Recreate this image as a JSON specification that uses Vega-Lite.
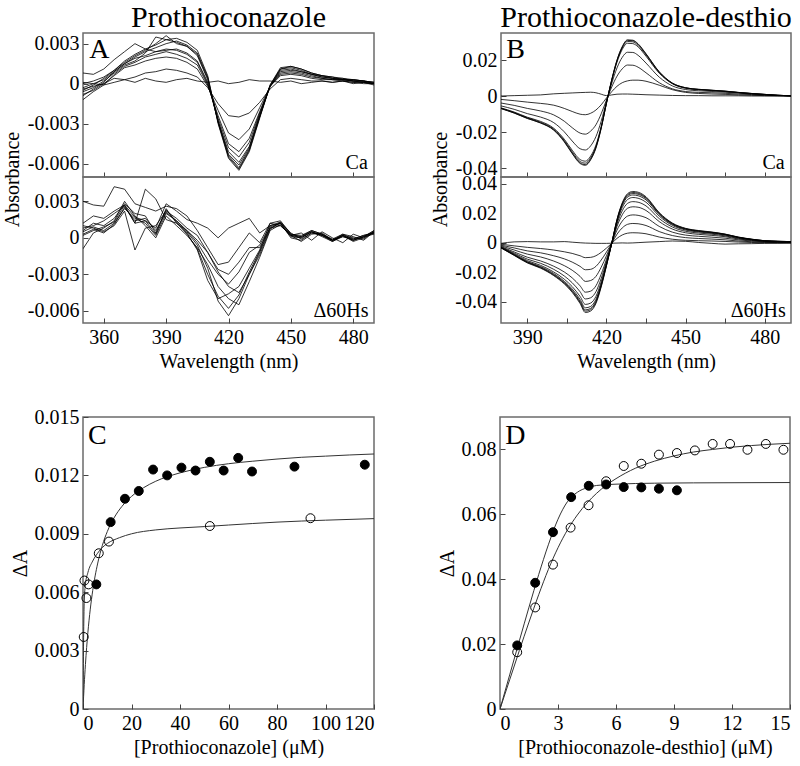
{
"$schema": "https://vega.github.io/schema/vega-lite/v6.json",
"padding": {"left": 1, "top": 2, "right": 0, "bottom": 0},
"config": {
 "font": "Liberation Serif",
 "view": {"stroke": "#6b6b6b", "strokeWidth": 1.5},
 "axis": {"grid": false, "domain": false, "tickSize": -5, "tickColor": "#444", "tickWidth": 1, "labelFontSize": 20, "labelColor": "#000", "labelPadding": 9, "labelFont": "Liberation Serif", "titleFont": "Liberation Serif", "titleFontSize": 20, "titleFontWeight": "normal", "titleColor": "#000"},
 "title": {"font": "Liberation Serif", "fontSize": 30, "fontWeight": "normal", "color": "#000"},
 "text": {"font": "Liberation Serif", "color": "#000"}
},
"datasets": {
"At": [
{"c":1,"w":350,"a":0.0001},{"c":1,"w":355,"a":0},{"c":1,"w":360,"a":-0.0001},{"c":1,"w":365,"a":0.0001},{"c":1,"w":370,"a":0.0003},{"c":1,"w":375,"a":0.0001},{"c":1,"w":380,"a":0.0004},{"c":1,"w":385,"a":0.0002},{"c":1,"w":390,"a":0.0001},{"c":1,"w":395,"a":0.0003},{"c":1,"w":400,"a":0.0004},{"c":1,"w":405,"a":0.0002},{"c":1,"w":410,"a":0.0001},{"c":1,"w":415,"a":0.0002},{"c":1,"w":420,"a":0},{"c":1,"w":425,"a":0.0001},{"c":1,"w":430,"a":0.0003},{"c":1,"w":435,"a":0.0002},{"c":1,"w":440,"a":0.0002},{"c":1,"w":445,"a":0.0001},{"c":1,"w":450,"a":0.0002},{"c":1,"w":455,"a":0},{"c":1,"w":460,"a":0.0001},{"c":1,"w":465,"a":0.0002},{"c":1,"w":470,"a":0.0001},{"c":1,"w":475,"a":0.0002},{"c":1,"w":480,"a":0},{"c":1,"w":485,"a":0.0001},{"c":1,"w":490,"a":0},
{"c":2,"w":350,"a":-0.0004},{"c":2,"w":355,"a":-0.0002},{"c":2,"w":360,"a":0},{"c":2,"w":365,"a":0.0004},{"c":2,"w":370,"a":0.0003},{"c":2,"w":375,"a":0.0005},{"c":2,"w":380,"a":0.0008},{"c":2,"w":385,"a":0.0009},{"c":2,"w":390,"a":0.0011},{"c":2,"w":395,"a":0.001},{"c":2,"w":400,"a":0.0008},{"c":2,"w":405,"a":0.0005},{"c":2,"w":410,"a":-0.0003},{"c":2,"w":415,"a":-0.0015},{"c":2,"w":420,"a":-0.0024},{"c":2,"w":425,"a":-0.0025},{"c":2,"w":430,"a":-0.0022},{"c":2,"w":435,"a":-0.0014},{"c":2,"w":440,"a":-0.0004},{"c":2,"w":445,"a":0.0003},{"c":2,"w":450,"a":0.0004},{"c":2,"w":455,"a":0.0003},{"c":2,"w":460,"a":0.0002},{"c":2,"w":465,"a":0.0002},{"c":2,"w":470,"a":0.0001},{"c":2,"w":475,"a":0.0002},{"c":2,"w":480,"a":0.0001},{"c":2,"w":485,"a":0},{"c":2,"w":490,"a":0},
{"c":3,"w":350,"a":-0.0008},{"c":3,"w":355,"a":-0.0005},{"c":3,"w":360,"a":0},{"c":3,"w":365,"a":0.0006},{"c":3,"w":370,"a":0.0012},{"c":3,"w":375,"a":0.0014},{"c":3,"w":380,"a":0.0017},{"c":3,"w":385,"a":0.0019},{"c":3,"w":390,"a":0.002},{"c":3,"w":395,"a":0.0019},{"c":3,"w":400,"a":0.0016},{"c":3,"w":405,"a":0.0011},{"c":3,"w":410,"a":-0.0002},{"c":3,"w":415,"a":-0.002},{"c":3,"w":420,"a":-0.0037},{"c":3,"w":425,"a":-0.0042},{"c":3,"w":430,"a":-0.0034},{"c":3,"w":435,"a":-0.0018},{"c":3,"w":440,"a":-0.0002},{"c":3,"w":445,"a":0.0006},{"c":3,"w":450,"a":0.0007},{"c":3,"w":455,"a":0.0006},{"c":3,"w":460,"a":0.0004},{"c":3,"w":465,"a":0.0003},{"c":3,"w":470,"a":0.0003},{"c":3,"w":475,"a":0.0002},{"c":3,"w":480,"a":0.0001},{"c":3,"w":485,"a":0.0001},{"c":3,"w":490,"a":0},
{"c":4,"w":350,"a":-0.0012},{"c":4,"w":355,"a":-0.0006},{"c":4,"w":360,"a":-0.0001},{"c":4,"w":365,"a":0.0007},{"c":4,"w":370,"a":0.0013},{"c":4,"w":375,"a":0.0016},{"c":4,"w":380,"a":0.002},{"c":4,"w":385,"a":0.0022},{"c":4,"w":390,"a":0.0024},{"c":4,"w":395,"a":0.0022},{"c":4,"w":400,"a":0.0019},{"c":4,"w":405,"a":0.0014},{"c":4,"w":410,"a":-0.0001},{"c":4,"w":415,"a":-0.0024},{"c":4,"w":420,"a":-0.0045},{"c":4,"w":425,"a":-0.0051},{"c":4,"w":430,"a":-0.0041},{"c":4,"w":435,"a":-0.0021},{"c":4,"w":440,"a":-0.0002},{"c":4,"w":445,"a":0.0007},{"c":4,"w":450,"a":0.0008},{"c":4,"w":455,"a":0.0007},{"c":4,"w":460,"a":0.0005},{"c":4,"w":465,"a":0.0004},{"c":4,"w":470,"a":0.0003},{"c":4,"w":475,"a":0.0003},{"c":4,"w":480,"a":0.0002},{"c":4,"w":485,"a":0.0001},{"c":4,"w":490,"a":-0.0001},
{"c":5,"w":350,"a":-0.0003},{"c":5,"w":355,"a":0},{"c":5,"w":360,"a":0.0003},{"c":5,"w":365,"a":0.0009},{"c":5,"w":370,"a":0.0015},{"c":5,"w":375,"a":0.0019},{"c":5,"w":380,"a":0.0021},{"c":5,"w":385,"a":0.0024},{"c":5,"w":390,"a":0.0026},{"c":5,"w":395,"a":0.0025},{"c":5,"w":400,"a":0.0022},{"c":5,"w":405,"a":0.0016},{"c":5,"w":410,"a":0},{"c":5,"w":415,"a":-0.0026},{"c":5,"w":420,"a":-0.0048},{"c":5,"w":425,"a":-0.0055},{"c":5,"w":430,"a":-0.0044},{"c":5,"w":435,"a":-0.0022},{"c":5,"w":440,"a":-0.0002},{"c":5,"w":445,"a":0.0008},{"c":5,"w":450,"a":0.0009},{"c":5,"w":455,"a":0.0008},{"c":5,"w":460,"a":0.0006},{"c":5,"w":465,"a":0.0004},{"c":5,"w":470,"a":0.0003},{"c":5,"w":475,"a":0.0003},{"c":5,"w":480,"a":0.0002},{"c":5,"w":485,"a":0.0001},{"c":5,"w":490,"a":0},
{"c":6,"w":350,"a":0.0008},{"c":6,"w":355,"a":0.0007},{"c":6,"w":360,"a":0.0011},{"c":6,"w":365,"a":0.0018},{"c":6,"w":370,"a":0.0024},{"c":6,"w":375,"a":0.003},{"c":6,"w":380,"a":0.0026},{"c":6,"w":385,"a":0.0024},{"c":6,"w":390,"a":0.0025},{"c":6,"w":395,"a":0.0026},{"c":6,"w":400,"a":0.0023},{"c":6,"w":405,"a":0.0017},{"c":6,"w":410,"a":0.0001},{"c":6,"w":415,"a":-0.0028},{"c":6,"w":420,"a":-0.0051},{"c":6,"w":425,"a":-0.0059},{"c":6,"w":430,"a":-0.0047},{"c":6,"w":435,"a":-0.0023},{"c":6,"w":440,"a":-0.0002},{"c":6,"w":445,"a":0.0009},{"c":6,"w":450,"a":0.001},{"c":6,"w":455,"a":0.0009},{"c":6,"w":460,"a":0.0007},{"c":6,"w":465,"a":0.0005},{"c":6,"w":470,"a":0.0004},{"c":6,"w":475,"a":0.0003},{"c":6,"w":480,"a":0.0002},{"c":6,"w":485,"a":0.0002},{"c":6,"w":490,"a":0},
{"c":7,"w":350,"a":-0.0006},{"c":7,"w":355,"a":-0.0003},{"c":7,"w":360,"a":0.0002},{"c":7,"w":365,"a":0.0008},{"c":7,"w":370,"a":0.0014},{"c":7,"w":375,"a":0.0017},{"c":7,"w":380,"a":0.0023},{"c":7,"w":385,"a":0.0035},{"c":7,"w":390,"a":0.0033},{"c":7,"w":395,"a":0.0031},{"c":7,"w":400,"a":0.0028},{"c":7,"w":405,"a":0.0021},{"c":7,"w":410,"a":0.0003},{"c":7,"w":415,"a":-0.0028},{"c":7,"w":420,"a":-0.0053},{"c":7,"w":425,"a":-0.0061},{"c":7,"w":430,"a":-0.0048},{"c":7,"w":435,"a":-0.0024},{"c":7,"w":440,"a":-0.0002},{"c":7,"w":445,"a":0.001},{"c":7,"w":450,"a":0.0011},{"c":7,"w":455,"a":0.0009},{"c":7,"w":460,"a":0.0007},{"c":7,"w":465,"a":0.0005},{"c":7,"w":470,"a":0.0004},{"c":7,"w":475,"a":0.0003},{"c":7,"w":480,"a":0.0003},{"c":7,"w":485,"a":0.0002},{"c":7,"w":490,"a":0.0001},
{"c":8,"w":350,"a":0},{"c":8,"w":355,"a":0.0002},{"c":8,"w":360,"a":0.0005},{"c":8,"w":365,"a":0.001},{"c":8,"w":370,"a":0.0016},{"c":8,"w":375,"a":0.0021},{"c":8,"w":380,"a":0.0025},{"c":8,"w":385,"a":0.003},{"c":8,"w":390,"a":0.0036},{"c":8,"w":395,"a":0.003},{"c":8,"w":400,"a":0.0028},{"c":8,"w":405,"a":0.0022},{"c":8,"w":410,"a":0.0004},{"c":8,"w":415,"a":-0.0029},{"c":8,"w":420,"a":-0.0054},{"c":8,"w":425,"a":-0.0063},{"c":8,"w":430,"a":-0.0049},{"c":8,"w":435,"a":-0.0025},{"c":8,"w":440,"a":-0.0002},{"c":8,"w":445,"a":0.0011},{"c":8,"w":450,"a":0.0012},{"c":8,"w":455,"a":0.001},{"c":8,"w":460,"a":0.0007},{"c":8,"w":465,"a":0.0006},{"c":8,"w":470,"a":0.0004},{"c":8,"w":475,"a":0.0004},{"c":8,"w":480,"a":0.0002},{"c":8,"w":485,"a":0.0002},{"c":8,"w":490,"a":0},
{"c":9,"w":350,"a":-0.0009},{"c":9,"w":355,"a":-0.0004},{"c":9,"w":360,"a":0.0001},{"c":9,"w":365,"a":0.0009},{"c":9,"w":370,"a":0.0015},{"c":9,"w":375,"a":0.002},{"c":9,"w":380,"a":0.0024},{"c":9,"w":385,"a":0.0027},{"c":9,"w":390,"a":0.003},{"c":9,"w":395,"a":0.0032},{"c":9,"w":400,"a":0.0029},{"c":9,"w":405,"a":0.0023},{"c":9,"w":410,"a":0.0005},{"c":9,"w":415,"a":-0.0029},{"c":9,"w":420,"a":-0.0055},{"c":9,"w":425,"a":-0.0064},{"c":9,"w":430,"a":-0.005},{"c":9,"w":435,"a":-0.0025},{"c":9,"w":440,"a":-0.0001},{"c":9,"w":445,"a":0.0011},{"c":9,"w":450,"a":0.0013},{"c":9,"w":455,"a":0.0011},{"c":9,"w":460,"a":0.0008},{"c":9,"w":465,"a":0.0006},{"c":9,"w":470,"a":0.0005},{"c":9,"w":475,"a":0.0003},{"c":9,"w":480,"a":0.0003},{"c":9,"w":485,"a":0.0002},{"c":9,"w":490,"a":0.0001},
{"c":10,"w":350,"a":-0.0005},{"c":10,"w":355,"a":-0.0001},{"c":10,"w":360,"a":0.0004},{"c":10,"w":365,"a":0.001},{"c":10,"w":370,"a":0.0017},{"c":10,"w":375,"a":0.0022},{"c":10,"w":380,"a":0.0026},{"c":10,"w":385,"a":0.0029},{"c":10,"w":390,"a":0.0033},{"c":10,"w":395,"a":0.0034},{"c":10,"w":400,"a":0.0031},{"c":10,"w":405,"a":0.0025},{"c":10,"w":410,"a":0.0006},{"c":10,"w":415,"a":-0.003},{"c":10,"w":420,"a":-0.0056},{"c":10,"w":425,"a":-0.0065},{"c":10,"w":430,"a":-0.0051},{"c":10,"w":435,"a":-0.0026},{"c":10,"w":440,"a":-0.0001},{"c":10,"w":445,"a":0.0012},{"c":10,"w":450,"a":0.0013},{"c":10,"w":455,"a":0.0011},{"c":10,"w":460,"a":0.0008},{"c":10,"w":465,"a":0.0006},{"c":10,"w":470,"a":0.0005},{"c":10,"w":475,"a":0.0004},{"c":10,"w":480,"a":0.0003},{"c":10,"w":485,"a":0.0002},{"c":10,"w":490,"a":0.0001}
],
"Ab": [
{"c":1,"w":350,"a":0.0012},{"c":1,"w":355,"a":0.0018},{"c":1,"w":360,"a":0.0016},{"c":1,"w":365,"a":0.0022},{"c":1,"w":370,"a":0.0027},{"c":1,"w":375,"a":0.0017},{"c":1,"w":380,"a":0.0014},{"c":1,"w":385,"a":0.0008},{"c":1,"w":390,"a":0.0028},{"c":1,"w":395,"a":0.0022},{"c":1,"w":400,"a":0.0015},{"c":1,"w":405,"a":0.0012},{"c":1,"w":410,"a":0.0008},{"c":1,"w":415,"a":0},{"c":1,"w":420,"a":0.0008},{"c":1,"w":425,"a":0.0012},{"c":1,"w":430,"a":0.0016},{"c":1,"w":435,"a":0.0004},{"c":1,"w":440,"a":0.001},{"c":1,"w":445,"a":0.0013},{"c":1,"w":450,"a":0.0003},{"c":1,"w":455,"a":0.0002},{"c":1,"w":460,"a":0.0006},{"c":1,"w":465,"a":0.0003},{"c":1,"w":470,"a":-0.0001},{"c":1,"w":475,"a":0.0003},{"c":1,"w":480,"a":0.0001},{"c":1,"w":485,"a":-0.0002},{"c":1,"w":490,"a":0.0005},
{"c":2,"w":350,"a":0.003},{"c":2,"w":355,"a":0.0027},{"c":2,"w":360,"a":0.0026},{"c":2,"w":365,"a":0.0042},{"c":2,"w":370,"a":0.004},{"c":2,"w":375,"a":0.0028},{"c":2,"w":380,"a":0.0025},{"c":2,"w":385,"a":0.0022},{"c":2,"w":390,"a":0.0026},{"c":2,"w":395,"a":0.0024},{"c":2,"w":400,"a":0.0018},{"c":2,"w":405,"a":0.0006},{"c":2,"w":410,"a":-0.0008},{"c":2,"w":415,"a":-0.0022},{"c":2,"w":420,"a":-0.002},{"c":2,"w":425,"a":-0.0008},{"c":2,"w":430,"a":0.0004},{"c":2,"w":435,"a":-0.0004},{"c":2,"w":440,"a":0.0012},{"c":2,"w":445,"a":0.001},{"c":2,"w":450,"a":0.0002},{"c":2,"w":455,"a":0.0004},{"c":2,"w":460,"a":-0.0002},{"c":2,"w":465,"a":0.0005},{"c":2,"w":470,"a":0},{"c":2,"w":475,"a":-0.0004},{"c":2,"w":480,"a":0.0003},{"c":2,"w":485,"a":0},{"c":2,"w":490,"a":0.0004},
{"c":3,"w":350,"a":0.0008},{"c":3,"w":355,"a":0.001},{"c":3,"w":360,"a":0.0014},{"c":3,"w":365,"a":0.002},{"c":3,"w":370,"a":0.0026},{"c":3,"w":375,"a":0.0012},{"c":3,"w":380,"a":0.004},{"c":3,"w":385,"a":0.0032},{"c":3,"w":390,"a":0.0015},{"c":3,"w":395,"a":0.0012},{"c":3,"w":400,"a":0.0006},{"c":3,"w":405,"a":-0.0004},{"c":3,"w":410,"a":-0.0018},{"c":3,"w":415,"a":-0.003},{"c":3,"w":420,"a":-0.0038},{"c":3,"w":425,"a":-0.0028},{"c":3,"w":430,"a":-0.0012},{"c":3,"w":435,"a":-0.0006},{"c":3,"w":440,"a":0.001},{"c":3,"w":445,"a":0.0012},{"c":3,"w":450,"a":0},{"c":3,"w":455,"a":-0.0002},{"c":3,"w":460,"a":0.0004},{"c":3,"w":465,"a":0.0002},{"c":3,"w":470,"a":-0.0003},{"c":3,"w":475,"a":0.0001},{"c":3,"w":480,"a":-0.0002},{"c":3,"w":485,"a":0.0001},{"c":3,"w":490,"a":0.0003},
{"c":4,"w":350,"a":0.0005},{"c":4,"w":355,"a":0.0009},{"c":4,"w":360,"a":0.0006},{"c":4,"w":365,"a":0.0012},{"c":4,"w":370,"a":0.0024},{"c":4,"w":375,"a":0.0016},{"c":4,"w":380,"a":0.0012},{"c":4,"w":385,"a":0.0002},{"c":4,"w":390,"a":0.002},{"c":4,"w":395,"a":0.0014},{"c":4,"w":400,"a":0.0005},{"c":4,"w":405,"a":-0.0006},{"c":4,"w":410,"a":-0.0025},{"c":4,"w":415,"a":-0.0052},{"c":4,"w":420,"a":-0.0064},{"c":4,"w":425,"a":-0.005},{"c":4,"w":430,"a":-0.003},{"c":4,"w":435,"a":-0.0012},{"c":4,"w":440,"a":0.0008},{"c":4,"w":445,"a":0.001},{"c":4,"w":450,"a":0.0002},{"c":4,"w":455,"a":-0.0003},{"c":4,"w":460,"a":0.0003},{"c":4,"w":465,"a":0.0004},{"c":4,"w":470,"a":-0.0002},{"c":4,"w":475,"a":0.0002},{"c":4,"w":480,"a":-0.0003},{"c":4,"w":485,"a":0},{"c":4,"w":490,"a":0.0006},
{"c":5,"w":350,"a":-0.0009},{"c":5,"w":355,"a":0.0004},{"c":5,"w":360,"a":0.0008},{"c":5,"w":365,"a":0.0014},{"c":5,"w":370,"a":0.003},{"c":5,"w":375,"a":0.0018},{"c":5,"w":380,"a":0.001},{"c":5,"w":385,"a":0},{"c":5,"w":390,"a":0.0018},{"c":5,"w":395,"a":0.001},{"c":5,"w":400,"a":0.0002},{"c":5,"w":405,"a":-0.0008},{"c":5,"w":410,"a":-0.0022},{"c":5,"w":415,"a":-0.004},{"c":5,"w":420,"a":-0.005},{"c":5,"w":425,"a":-0.0055},{"c":5,"w":430,"a":-0.0036},{"c":5,"w":435,"a":-0.0016},{"c":5,"w":440,"a":0.0006},{"c":5,"w":445,"a":0.0011},{"c":5,"w":450,"a":0.0001},{"c":5,"w":455,"a":0},{"c":5,"w":460,"a":0.0005},{"c":5,"w":465,"a":0.0002},{"c":5,"w":470,"a":-0.0002},{"c":5,"w":475,"a":0.0003},{"c":5,"w":480,"a":-0.0001},{"c":5,"w":485,"a":0.0002},{"c":5,"w":490,"a":0.0004},
{"c":6,"w":350,"a":0.0006},{"c":6,"w":355,"a":0.0012},{"c":6,"w":360,"a":0.001},{"c":6,"w":365,"a":0.0016},{"c":6,"w":370,"a":0.0028},{"c":6,"w":375,"a":0.002},{"c":6,"w":380,"a":0.0018},{"c":6,"w":385,"a":0.0004},{"c":6,"w":390,"a":0.0024},{"c":6,"w":395,"a":0.0012},{"c":6,"w":400,"a":0.0004},{"c":6,"w":405,"a":-0.001},{"c":6,"w":410,"a":-0.0035},{"c":6,"w":415,"a":-0.005},{"c":6,"w":420,"a":-0.0046},{"c":6,"w":425,"a":-0.004},{"c":6,"w":430,"a":-0.0025},{"c":6,"w":435,"a":-0.001},{"c":6,"w":440,"a":0.0012},{"c":6,"w":445,"a":0.0014},{"c":6,"w":450,"a":0.0003},{"c":6,"w":455,"a":0.0001},{"c":6,"w":460,"a":0.0006},{"c":6,"w":465,"a":0.0003},{"c":6,"w":470,"a":-0.0002},{"c":6,"w":475,"a":0.0002},{"c":6,"w":480,"a":0},{"c":6,"w":485,"a":-0.0001},{"c":6,"w":490,"a":0.0005},
{"c":7,"w":350,"a":0.001},{"c":7,"w":355,"a":0.0008},{"c":7,"w":360,"a":0.0005},{"c":7,"w":365,"a":0.001},{"c":7,"w":370,"a":0.0022},{"c":7,"w":375,"a":-0.001},{"c":7,"w":380,"a":0.0008},{"c":7,"w":385,"a":0.001},{"c":7,"w":390,"a":0.0022},{"c":7,"w":395,"a":0.0016},{"c":7,"w":400,"a":0.0008},{"c":7,"w":405,"a":0.0002},{"c":7,"w":410,"a":-0.0012},{"c":7,"w":415,"a":-0.0026},{"c":7,"w":420,"a":-0.003},{"c":7,"w":425,"a":-0.002},{"c":7,"w":430,"a":-0.0008},{"c":7,"w":435,"a":-0.0008},{"c":7,"w":440,"a":0.0008},{"c":7,"w":445,"a":0.0012},{"c":7,"w":450,"a":0.0002},{"c":7,"w":455,"a":0.0001},{"c":7,"w":460,"a":0.0005},{"c":7,"w":465,"a":0.0001},{"c":7,"w":470,"a":-0.0003},{"c":7,"w":475,"a":0.0002},{"c":7,"w":480,"a":-0.0002},{"c":7,"w":485,"a":0.0001},{"c":7,"w":490,"a":0.0006},
{"c":8,"w":350,"a":0.0003},{"c":8,"w":355,"a":0.0007},{"c":8,"w":360,"a":0.0004},{"c":8,"w":365,"a":0.0011},{"c":8,"w":370,"a":0.0025},{"c":8,"w":375,"a":0.0014},{"c":8,"w":380,"a":0.0016},{"c":8,"w":385,"a":0.0006},{"c":8,"w":390,"a":0.0021},{"c":8,"w":395,"a":0.0014},{"c":8,"w":400,"a":0.0006},{"c":8,"w":405,"a":-0.0002},{"c":8,"w":410,"a":-0.0012},{"c":8,"w":415,"a":-0.0028},{"c":8,"w":420,"a":-0.004},{"c":8,"w":425,"a":-0.0045},{"c":8,"w":430,"a":-0.003},{"c":8,"w":435,"a":-0.0014},{"c":8,"w":440,"a":0.0007},{"c":8,"w":445,"a":0.0013},{"c":8,"w":450,"a":0.0004},{"c":8,"w":455,"a":-0.0001},{"c":8,"w":460,"a":0.0004},{"c":8,"w":465,"a":0.0003},{"c":8,"w":470,"a":-0.0002},{"c":8,"w":475,"a":0.0001},{"c":8,"w":480,"a":-0.0001},{"c":8,"w":485,"a":0.0002},{"c":8,"w":490,"a":0.0004},
{"c":9,"w":350,"a":0.0002},{"c":9,"w":355,"a":0.0006},{"c":9,"w":360,"a":0.0009},{"c":9,"w":365,"a":0.0013},{"c":9,"w":370,"a":0.0027},{"c":9,"w":375,"a":0.0012},{"c":9,"w":380,"a":0.0014},{"c":9,"w":385,"a":0.0003},{"c":9,"w":390,"a":0.0023},{"c":9,"w":395,"a":0.0013},{"c":9,"w":400,"a":0.0003},{"c":9,"w":405,"a":-0.0009},{"c":9,"w":410,"a":-0.003},{"c":9,"w":415,"a":-0.0048},{"c":9,"w":420,"a":-0.0058},{"c":9,"w":425,"a":-0.0047},{"c":9,"w":430,"a":-0.0028},{"c":9,"w":435,"a":-0.0011},{"c":9,"w":440,"a":0.0009},{"c":9,"w":445,"a":0.0012},{"c":9,"w":450,"a":0.0002},{"c":9,"w":455,"a":0},{"c":9,"w":460,"a":0.0005},{"c":9,"w":465,"a":0.0002},{"c":9,"w":470,"a":-0.0002},{"c":9,"w":475,"a":0.0002},{"c":9,"w":480,"a":-0.0002},{"c":9,"w":485,"a":0.0001},{"c":9,"w":490,"a":0.0005}
],
"Bt": [
{"c":1,"w":380,"a":0},{"c":1,"w":385,"a":0.0002},{"c":1,"w":390,"a":0.0004},{"c":1,"w":395,"a":0.0006},{"c":1,"w":400,"a":0.0012},{"c":1,"w":404,"a":0.0015},{"c":1,"w":407,"a":0.0017},{"c":1,"w":410,"a":0.0019},{"c":1,"w":412,"a":0.002},{"c":1,"w":414,"a":0.0021},{"c":1,"w":416,"a":0.0018},{"c":1,"w":418,"a":0.001},{"c":1,"w":420,"a":0.0002},{"c":1,"w":422,"a":0.0006},{"c":1,"w":424,"a":0.001},{"c":1,"w":426,"a":0.0011},{"c":1,"w":428,"a":0.0011},{"c":1,"w":430,"a":0.001},{"c":1,"w":432,"a":0.0009},{"c":1,"w":435,"a":0.0007},{"c":1,"w":440,"a":0.0005},{"c":1,"w":445,"a":0.0003},{"c":1,"w":450,"a":0.0002},{"c":1,"w":455,"a":0.0002},{"c":1,"w":460,"a":0.0001},{"c":1,"w":465,"a":0.0001},{"c":1,"w":470,"a":0.0001},{"c":1,"w":475,"a":0},{"c":1,"w":480,"a":0},{"c":1,"w":485,"a":0},{"c":1,"w":490,"a":0},
{"c":2,"w":380,"a":-0.0019},{"c":2,"w":385,"a":-0.0026},{"c":2,"w":390,"a":-0.0034},{"c":2,"w":395,"a":-0.0041},{"c":2,"w":400,"a":-0.0051},{"c":2,"w":404,"a":-0.0069},{"c":2,"w":407,"a":-0.0086},{"c":2,"w":410,"a":-0.0101},{"c":2,"w":412,"a":-0.0104},{"c":2,"w":414,"a":-0.0096},{"c":2,"w":416,"a":-0.0078},{"c":2,"w":418,"a":-0.0049},{"c":2,"w":420,"a":-0.0011},{"c":2,"w":422,"a":0.0024},{"c":2,"w":424,"a":0.0054},{"c":2,"w":426,"a":0.0074},{"c":2,"w":428,"a":0.0084},{"c":2,"w":430,"a":0.0088},{"c":2,"w":432,"a":0.0088},{"c":2,"w":435,"a":0.0082},{"c":2,"w":440,"a":0.006},{"c":2,"w":445,"a":0.0035},{"c":2,"w":450,"a":0.002},{"c":2,"w":455,"a":0.0014},{"c":2,"w":460,"a":0.0011},{"c":2,"w":465,"a":0.0009},{"c":2,"w":470,"a":0.0006},{"c":2,"w":475,"a":0.0004},{"c":2,"w":480,"a":0.0002},{"c":2,"w":485,"a":0.0001},{"c":2,"w":490,"a":0},
{"c":3,"w":380,"a":-0.0039},{"c":3,"w":385,"a":-0.0052},{"c":3,"w":390,"a":-0.0069},{"c":3,"w":395,"a":-0.0083},{"c":3,"w":400,"a":-0.0105},{"c":3,"w":404,"a":-0.014},{"c":3,"w":407,"a":-0.0176},{"c":3,"w":410,"a":-0.0206},{"c":3,"w":412,"a":-0.0212},{"c":3,"w":414,"a":-0.0195},{"c":3,"w":416,"a":-0.016},{"c":3,"w":418,"a":-0.0099},{"c":3,"w":420,"a":-0.0022},{"c":3,"w":422,"a":0.005},{"c":3,"w":424,"a":0.011},{"c":3,"w":426,"a":0.0151},{"c":3,"w":428,"a":0.0172},{"c":3,"w":430,"a":0.0171},{"c":3,"w":432,"a":0.016},{"c":3,"w":435,"a":0.0129},{"c":3,"w":440,"a":0.0074},{"c":3,"w":445,"a":0.004},{"c":3,"w":450,"a":0.0025},{"c":3,"w":455,"a":0.002},{"c":3,"w":460,"a":0.0018},{"c":3,"w":465,"a":0.0015},{"c":3,"w":470,"a":0.0011},{"c":3,"w":475,"a":0.0008},{"c":3,"w":480,"a":0.0005},{"c":3,"w":485,"a":0.0002},{"c":3,"w":490,"a":0.0001},
{"c":4,"w":380,"a":-0.0055},{"c":4,"w":385,"a":-0.0074},{"c":4,"w":390,"a":-0.0098},{"c":4,"w":395,"a":-0.0117},{"c":4,"w":400,"a":-0.0148},{"c":4,"w":404,"a":-0.0199},{"c":4,"w":407,"a":-0.025},{"c":4,"w":410,"a":-0.0293},{"c":4,"w":412,"a":-0.03},{"c":4,"w":414,"a":-0.0277},{"c":4,"w":416,"a":-0.0226},{"c":4,"w":418,"a":-0.014},{"c":4,"w":420,"a":-0.0031},{"c":4,"w":422,"a":0.007},{"c":4,"w":424,"a":0.0156},{"c":4,"w":426,"a":0.0215},{"c":4,"w":428,"a":0.0243},{"c":4,"w":430,"a":0.0242},{"c":4,"w":432,"a":0.0226},{"c":4,"w":435,"a":0.0183},{"c":4,"w":440,"a":0.0105},{"c":4,"w":445,"a":0.0056},{"c":4,"w":450,"a":0.0036},{"c":4,"w":455,"a":0.0029},{"c":4,"w":460,"a":0.0025},{"c":4,"w":465,"a":0.0021},{"c":4,"w":470,"a":0.0016},{"c":4,"w":475,"a":0.0011},{"c":4,"w":480,"a":0.0007},{"c":4,"w":485,"a":0.0003},{"c":4,"w":490,"a":0.0001},
{"c":5,"w":380,"a":-0.0066},{"c":5,"w":385,"a":-0.0089},{"c":5,"w":390,"a":-0.0118},{"c":5,"w":395,"a":-0.0141},{"c":5,"w":400,"a":-0.0179},{"c":5,"w":404,"a":-0.024},{"c":5,"w":407,"a":-0.0301},{"c":5,"w":410,"a":-0.0353},{"c":5,"w":412,"a":-0.0362},{"c":5,"w":414,"a":-0.0334},{"c":5,"w":416,"a":-0.0273},{"c":5,"w":418,"a":-0.0169},{"c":5,"w":420,"a":-0.0038},{"c":5,"w":422,"a":0.0085},{"c":5,"w":424,"a":0.0188},{"c":5,"w":426,"a":0.0259},{"c":5,"w":428,"a":0.0293},{"c":5,"w":430,"a":0.0291},{"c":5,"w":432,"a":0.0273},{"c":5,"w":435,"a":0.0221},{"c":5,"w":440,"a":0.0127},{"c":5,"w":445,"a":0.0068},{"c":5,"w":450,"a":0.0043},{"c":5,"w":455,"a":0.0035},{"c":5,"w":460,"a":0.003},{"c":5,"w":465,"a":0.0025},{"c":5,"w":470,"a":0.0019},{"c":5,"w":475,"a":0.0013},{"c":5,"w":480,"a":0.0008},{"c":5,"w":485,"a":0.0004},{"c":5,"w":490,"a":0.0001},
{"c":6,"w":380,"a":-0.0068},{"c":6,"w":385,"a":-0.0092},{"c":6,"w":390,"a":-0.0121},{"c":6,"w":395,"a":-0.0146},{"c":6,"w":400,"a":-0.0184},{"c":6,"w":404,"a":-0.0247},{"c":6,"w":407,"a":-0.031},{"c":6,"w":410,"a":-0.0364},{"c":6,"w":412,"a":-0.0373},{"c":6,"w":414,"a":-0.0344},{"c":6,"w":416,"a":-0.0281},{"c":6,"w":418,"a":-0.0175},{"c":6,"w":420,"a":-0.0039},{"c":6,"w":422,"a":0.0087},{"c":6,"w":424,"a":0.0194},{"c":6,"w":426,"a":0.0267},{"c":6,"w":428,"a":0.0303},{"c":6,"w":430,"a":0.0301},{"c":6,"w":432,"a":0.0281},{"c":6,"w":435,"a":0.0228},{"c":6,"w":440,"a":0.0131},{"c":6,"w":445,"a":0.007},{"c":6,"w":450,"a":0.0045},{"c":6,"w":455,"a":0.0036},{"c":6,"w":460,"a":0.0031},{"c":6,"w":465,"a":0.0026},{"c":6,"w":470,"a":0.0019},{"c":6,"w":475,"a":0.0014},{"c":6,"w":480,"a":0.0009},{"c":6,"w":485,"a":0.0004},{"c":6,"w":490,"a":0.0001},
{"c":7,"w":380,"a":-0.0069},{"c":7,"w":385,"a":-0.0094},{"c":7,"w":390,"a":-0.0124},{"c":7,"w":395,"a":-0.0149},{"c":7,"w":400,"a":-0.0188},{"c":7,"w":404,"a":-0.0252},{"c":7,"w":407,"a":-0.0317},{"c":7,"w":410,"a":-0.0371},{"c":7,"w":412,"a":-0.0381},{"c":7,"w":414,"a":-0.0351},{"c":7,"w":416,"a":-0.0287},{"c":7,"w":418,"a":-0.0178},{"c":7,"w":420,"a":-0.004},{"c":7,"w":422,"a":0.0089},{"c":7,"w":424,"a":0.0198},{"c":7,"w":426,"a":0.0272},{"c":7,"w":428,"a":0.0309},{"c":7,"w":430,"a":0.0307},{"c":7,"w":432,"a":0.0287},{"c":7,"w":435,"a":0.0233},{"c":7,"w":440,"a":0.0134},{"c":7,"w":445,"a":0.0071},{"c":7,"w":450,"a":0.0046},{"c":7,"w":455,"a":0.0037},{"c":7,"w":460,"a":0.0032},{"c":7,"w":465,"a":0.0027},{"c":7,"w":470,"a":0.002},{"c":7,"w":475,"a":0.0014},{"c":7,"w":480,"a":0.0009},{"c":7,"w":485,"a":0.0004},{"c":7,"w":490,"a":0.0001},
{"c":8,"w":380,"a":-0.007},{"c":8,"w":385,"a":-0.0095},{"c":8,"w":390,"a":-0.0125},{"c":8,"w":395,"a":-0.015},{"c":8,"w":400,"a":-0.019},{"c":8,"w":404,"a":-0.0255},{"c":8,"w":407,"a":-0.032},{"c":8,"w":410,"a":-0.0375},{"c":8,"w":412,"a":-0.0385},{"c":8,"w":414,"a":-0.0355},{"c":8,"w":416,"a":-0.029},{"c":8,"w":418,"a":-0.018},{"c":8,"w":420,"a":-0.004},{"c":8,"w":422,"a":0.009},{"c":8,"w":424,"a":0.02},{"c":8,"w":426,"a":0.0275},{"c":8,"w":428,"a":0.0312},{"c":8,"w":430,"a":0.031},{"c":8,"w":432,"a":0.029},{"c":8,"w":435,"a":0.0235},{"c":8,"w":440,"a":0.0135},{"c":8,"w":445,"a":0.0072},{"c":8,"w":450,"a":0.0046},{"c":8,"w":455,"a":0.0037},{"c":8,"w":460,"a":0.0032},{"c":8,"w":465,"a":0.0027},{"c":8,"w":470,"a":0.002},{"c":8,"w":475,"a":0.0014},{"c":8,"w":480,"a":0.0009},{"c":8,"w":485,"a":0.0004},{"c":8,"w":490,"a":0.0001}
],
"Bb": [
{"c":1,"w":380,"a":0},{"c":1,"w":385,"a":0.001},{"c":1,"w":390,"a":0.0012},{"c":1,"w":395,"a":0.001},{"c":1,"w":400,"a":0.001},{"c":1,"w":404,"a":0.0012},{"c":1,"w":407,"a":0.0008},{"c":1,"w":410,"a":0.0004},{"c":1,"w":412,"a":0.0002},{"c":1,"w":414,"a":0.0001},{"c":1,"w":416,"a":0},{"c":1,"w":418,"a":0},{"c":1,"w":420,"a":0},{"c":1,"w":422,"a":0.0001},{"c":1,"w":424,"a":0.0002},{"c":1,"w":426,"a":0.0003},{"c":1,"w":428,"a":0.0002},{"c":1,"w":430,"a":0.0003},{"c":1,"w":432,"a":0.0005},{"c":1,"w":435,"a":0.0008},{"c":1,"w":440,"a":0.0012},{"c":1,"w":445,"a":0.0016},{"c":1,"w":450,"a":0.0014},{"c":1,"w":455,"a":0.0006},{"c":1,"w":460,"a":0},{"c":1,"w":465,"a":-0.0005},{"c":1,"w":470,"a":-0.0003},{"c":1,"w":475,"a":-0.0002},{"c":1,"w":480,"a":0},{"c":1,"w":485,"a":0.0001},{"c":1,"w":490,"a":0.0002},
{"c":2,"w":380,"a":-0.0006},{"c":2,"w":385,"a":-0.0017},{"c":2,"w":390,"a":-0.0027},{"c":2,"w":395,"a":-0.0035},{"c":2,"w":400,"a":-0.0045},{"c":2,"w":404,"a":-0.0057},{"c":2,"w":407,"a":-0.0068},{"c":2,"w":410,"a":-0.0084},{"c":2,"w":412,"a":-0.0097},{"c":2,"w":414,"a":-0.0095},{"c":2,"w":416,"a":-0.0084},{"c":2,"w":418,"a":-0.0061},{"c":2,"w":420,"a":-0.0032},{"c":2,"w":422,"a":0},{"c":2,"w":424,"a":0.0034},{"c":2,"w":426,"a":0.0057},{"c":2,"w":428,"a":0.0069},{"c":2,"w":430,"a":0.0072},{"c":2,"w":432,"a":0.0071},{"c":2,"w":435,"a":0.0065},{"c":2,"w":440,"a":0.0043},{"c":2,"w":445,"a":0.0028},{"c":2,"w":450,"a":0.0021},{"c":2,"w":455,"a":0.0018},{"c":2,"w":460,"a":0.0016},{"c":2,"w":465,"a":0.0013},{"c":2,"w":470,"a":0.0009},{"c":2,"w":475,"a":0.0006},{"c":2,"w":480,"a":0.0004},{"c":2,"w":485,"a":0.0003},{"c":2,"w":490,"a":0.0003},
{"c":3,"w":380,"a":-0.0012},{"c":3,"w":385,"a":-0.0031},{"c":3,"w":390,"a":-0.0051},{"c":3,"w":395,"a":-0.0064},{"c":3,"w":400,"a":-0.0084},{"c":3,"w":404,"a":-0.0105},{"c":3,"w":407,"a":-0.0127},{"c":3,"w":410,"a":-0.0156},{"c":3,"w":412,"a":-0.0179},{"c":3,"w":414,"a":-0.0176},{"c":3,"w":416,"a":-0.0156},{"c":3,"w":418,"a":-0.0113},{"c":3,"w":420,"a":-0.0059},{"c":3,"w":422,"a":0},{"c":3,"w":424,"a":0.0062},{"c":3,"w":426,"a":0.0105},{"c":3,"w":428,"a":0.0129},{"c":3,"w":430,"a":0.0135},{"c":3,"w":432,"a":0.0133},{"c":3,"w":435,"a":0.0121},{"c":3,"w":440,"a":0.008},{"c":3,"w":445,"a":0.0053},{"c":3,"w":450,"a":0.0039},{"c":3,"w":455,"a":0.0033},{"c":3,"w":460,"a":0.0029},{"c":3,"w":465,"a":0.0024},{"c":3,"w":470,"a":0.0016},{"c":3,"w":475,"a":0.0011},{"c":3,"w":480,"a":0.0007},{"c":3,"w":485,"a":0.0005},{"c":3,"w":490,"a":0.0005},
{"c":4,"w":380,"a":-0.0017},{"c":4,"w":385,"a":-0.0045},{"c":4,"w":390,"a":-0.0073},{"c":4,"w":395,"a":-0.0092},{"c":4,"w":400,"a":-0.012},{"c":4,"w":404,"a":-0.0151},{"c":4,"w":407,"a":-0.0182},{"c":4,"w":410,"a":-0.0224},{"c":4,"w":412,"a":-0.0258},{"c":4,"w":414,"a":-0.0252},{"c":4,"w":416,"a":-0.0224},{"c":4,"w":418,"a":-0.0162},{"c":4,"w":420,"a":-0.0084},{"c":4,"w":422,"a":0},{"c":4,"w":424,"a":0.009},{"c":4,"w":426,"a":0.0151},{"c":4,"w":428,"a":0.0185},{"c":4,"w":430,"a":0.0193},{"c":4,"w":432,"a":0.019},{"c":4,"w":435,"a":0.0174},{"c":4,"w":440,"a":0.0115},{"c":4,"w":445,"a":0.0076},{"c":4,"w":450,"a":0.0056},{"c":4,"w":455,"a":0.0048},{"c":4,"w":460,"a":0.0042},{"c":4,"w":465,"a":0.0035},{"c":4,"w":470,"a":0.0024},{"c":4,"w":475,"a":0.0016},{"c":4,"w":480,"a":0.001},{"c":4,"w":485,"a":0.0008},{"c":4,"w":490,"a":0.0007},
{"c":5,"w":380,"a":-0.0022},{"c":5,"w":385,"a":-0.0058},{"c":5,"w":390,"a":-0.0094},{"c":5,"w":395,"a":-0.0119},{"c":5,"w":400,"a":-0.0155},{"c":5,"w":404,"a":-0.0194},{"c":5,"w":407,"a":-0.0234},{"c":5,"w":410,"a":-0.0288},{"c":5,"w":412,"a":-0.0331},{"c":5,"w":414,"a":-0.0324},{"c":5,"w":416,"a":-0.0288},{"c":5,"w":418,"a":-0.0209},{"c":5,"w":420,"a":-0.0108},{"c":5,"w":422,"a":0},{"c":5,"w":424,"a":0.0115},{"c":5,"w":426,"a":0.0194},{"c":5,"w":428,"a":0.0238},{"c":5,"w":430,"a":0.0248},{"c":5,"w":432,"a":0.0245},{"c":5,"w":435,"a":0.0223},{"c":5,"w":440,"a":0.0148},{"c":5,"w":445,"a":0.0097},{"c":5,"w":450,"a":0.0072},{"c":5,"w":455,"a":0.0061},{"c":5,"w":460,"a":0.0054},{"c":5,"w":465,"a":0.0045},{"c":5,"w":470,"a":0.003},{"c":5,"w":475,"a":0.002},{"c":5,"w":480,"a":0.0013},{"c":5,"w":485,"a":0.001},{"c":5,"w":490,"a":0.0009},
{"c":6,"w":380,"a":-0.0025},{"c":6,"w":385,"a":-0.0066},{"c":6,"w":390,"a":-0.0107},{"c":6,"w":395,"a":-0.0135},{"c":6,"w":400,"a":-0.0176},{"c":6,"w":404,"a":-0.0221},{"c":6,"w":407,"a":-0.0267},{"c":6,"w":410,"a":-0.0328},{"c":6,"w":412,"a":-0.0377},{"c":6,"w":414,"a":-0.0369},{"c":6,"w":416,"a":-0.0328},{"c":6,"w":418,"a":-0.0238},{"c":6,"w":420,"a":-0.0123},{"c":6,"w":422,"a":0},{"c":6,"w":424,"a":0.0131},{"c":6,"w":426,"a":0.0221},{"c":6,"w":428,"a":0.0271},{"c":6,"w":430,"a":0.0283},{"c":6,"w":432,"a":0.0279},{"c":6,"w":435,"a":0.0254},{"c":6,"w":440,"a":0.0168},{"c":6,"w":445,"a":0.0111},{"c":6,"w":450,"a":0.0082},{"c":6,"w":455,"a":0.007},{"c":6,"w":460,"a":0.0062},{"c":6,"w":465,"a":0.0051},{"c":6,"w":470,"a":0.0034},{"c":6,"w":475,"a":0.0023},{"c":6,"w":480,"a":0.0015},{"c":6,"w":485,"a":0.0011},{"c":6,"w":490,"a":0.001},
{"c":7,"w":380,"a":-0.0027},{"c":7,"w":385,"a":-0.0072},{"c":7,"w":390,"a":-0.0117},{"c":7,"w":395,"a":-0.0149},{"c":7,"w":400,"a":-0.0194},{"c":7,"w":404,"a":-0.0243},{"c":7,"w":407,"a":-0.0293},{"c":7,"w":410,"a":-0.036},{"c":7,"w":412,"a":-0.0414},{"c":7,"w":414,"a":-0.0405},{"c":7,"w":416,"a":-0.036},{"c":7,"w":418,"a":-0.0261},{"c":7,"w":420,"a":-0.0135},{"c":7,"w":422,"a":0},{"c":7,"w":424,"a":0.0144},{"c":7,"w":426,"a":0.0243},{"c":7,"w":428,"a":0.0297},{"c":7,"w":430,"a":0.0311},{"c":7,"w":432,"a":0.0306},{"c":7,"w":435,"a":0.0279},{"c":7,"w":440,"a":0.0185},{"c":7,"w":445,"a":0.0122},{"c":7,"w":450,"a":0.009},{"c":7,"w":455,"a":0.0077},{"c":7,"w":460,"a":0.0068},{"c":7,"w":465,"a":0.0056},{"c":7,"w":470,"a":0.0038},{"c":7,"w":475,"a":0.0025},{"c":7,"w":480,"a":0.0016},{"c":7,"w":485,"a":0.0013},{"c":7,"w":490,"a":0.0011},
{"c":8,"w":380,"a":-0.0029},{"c":8,"w":385,"a":-0.0076},{"c":8,"w":390,"a":-0.0124},{"c":8,"w":395,"a":-0.0157},{"c":8,"w":400,"a":-0.0204},{"c":8,"w":404,"a":-0.0257},{"c":8,"w":407,"a":-0.0309},{"c":8,"w":410,"a":-0.038},{"c":8,"w":412,"a":-0.0437},{"c":8,"w":414,"a":-0.0428},{"c":8,"w":416,"a":-0.038},{"c":8,"w":418,"a":-0.0276},{"c":8,"w":420,"a":-0.0143},{"c":8,"w":422,"a":0},{"c":8,"w":424,"a":0.0152},{"c":8,"w":426,"a":0.0257},{"c":8,"w":428,"a":0.0314},{"c":8,"w":430,"a":0.0328},{"c":8,"w":432,"a":0.0323},{"c":8,"w":435,"a":0.0295},{"c":8,"w":440,"a":0.0195},{"c":8,"w":445,"a":0.0128},{"c":8,"w":450,"a":0.0095},{"c":8,"w":455,"a":0.0081},{"c":8,"w":460,"a":0.0071},{"c":8,"w":465,"a":0.0059},{"c":8,"w":470,"a":0.004},{"c":8,"w":475,"a":0.0027},{"c":8,"w":480,"a":0.0017},{"c":8,"w":485,"a":0.0013},{"c":8,"w":490,"a":0.0011},
{"c":9,"w":380,"a":-0.0029},{"c":9,"w":385,"a":-0.0078},{"c":9,"w":390,"a":-0.0127},{"c":9,"w":395,"a":-0.0162},{"c":9,"w":400,"a":-0.0211},{"c":9,"w":404,"a":-0.0265},{"c":9,"w":407,"a":-0.0319},{"c":9,"w":410,"a":-0.0392},{"c":9,"w":412,"a":-0.0451},{"c":9,"w":414,"a":-0.0441},{"c":9,"w":416,"a":-0.0392},{"c":9,"w":418,"a":-0.0284},{"c":9,"w":420,"a":-0.0147},{"c":9,"w":422,"a":0},{"c":9,"w":424,"a":0.0157},{"c":9,"w":426,"a":0.0265},{"c":9,"w":428,"a":0.0323},{"c":9,"w":430,"a":0.0338},{"c":9,"w":432,"a":0.0333},{"c":9,"w":435,"a":0.0304},{"c":9,"w":440,"a":0.0201},{"c":9,"w":445,"a":0.0132},{"c":9,"w":450,"a":0.0098},{"c":9,"w":455,"a":0.0083},{"c":9,"w":460,"a":0.0074},{"c":9,"w":465,"a":0.0061},{"c":9,"w":470,"a":0.0041},{"c":9,"w":475,"a":0.0027},{"c":9,"w":480,"a":0.0018},{"c":9,"w":485,"a":0.0014},{"c":9,"w":490,"a":0.0012},
{"c":10,"w":380,"a":-0.003},{"c":10,"w":385,"a":-0.008},{"c":10,"w":390,"a":-0.013},{"c":10,"w":395,"a":-0.0165},{"c":10,"w":400,"a":-0.0215},{"c":10,"w":404,"a":-0.027},{"c":10,"w":407,"a":-0.0325},{"c":10,"w":410,"a":-0.04},{"c":10,"w":412,"a":-0.046},{"c":10,"w":414,"a":-0.045},{"c":10,"w":416,"a":-0.04},{"c":10,"w":418,"a":-0.029},{"c":10,"w":420,"a":-0.015},{"c":10,"w":422,"a":0},{"c":10,"w":424,"a":0.016},{"c":10,"w":426,"a":0.027},{"c":10,"w":428,"a":0.033},{"c":10,"w":430,"a":0.0345},{"c":10,"w":432,"a":0.034},{"c":10,"w":435,"a":0.031},{"c":10,"w":440,"a":0.0205},{"c":10,"w":445,"a":0.0135},{"c":10,"w":450,"a":0.01},{"c":10,"w":455,"a":0.0085},{"c":10,"w":460,"a":0.0075},{"c":10,"w":465,"a":0.0062},{"c":10,"w":470,"a":0.0042},{"c":10,"w":475,"a":0.0028},{"c":10,"w":480,"a":0.0018},{"c":10,"w":485,"a":0.0014},{"c":10,"w":490,"a":0.0012},
{"c":11,"w":380,"a":-0.0031},{"c":11,"w":385,"a":-0.0082},{"c":11,"w":390,"a":-0.0133},{"c":11,"w":395,"a":-0.0168},{"c":11,"w":400,"a":-0.0219},{"c":11,"w":404,"a":-0.0275},{"c":11,"w":407,"a":-0.0332},{"c":11,"w":410,"a":-0.0408},{"c":11,"w":412,"a":-0.0469},{"c":11,"w":414,"a":-0.0459},{"c":11,"w":416,"a":-0.0408},{"c":11,"w":418,"a":-0.0296},{"c":11,"w":420,"a":-0.0153},{"c":11,"w":422,"a":0},{"c":11,"w":424,"a":0.0163},{"c":11,"w":426,"a":0.0275},{"c":11,"w":428,"a":0.0337},{"c":11,"w":430,"a":0.0352},{"c":11,"w":432,"a":0.0347},{"c":11,"w":435,"a":0.0316},{"c":11,"w":440,"a":0.0209},{"c":11,"w":445,"a":0.0138},{"c":11,"w":450,"a":0.0102},{"c":11,"w":455,"a":0.0087},{"c":11,"w":460,"a":0.0077},{"c":11,"w":465,"a":0.0063},{"c":11,"w":470,"a":0.0043},{"c":11,"w":475,"a":0.0029},{"c":11,"w":480,"a":0.0018},{"c":11,"w":485,"a":0.0014},{"c":11,"w":490,"a":0.0012}
],
"BbTicks": [
{"v":0.04,"t":"0.04"},{"v":0.02,"t":"0.02"},{"v":0,"t":"0"},{"v":-0.02,"t":"-0.02"},{"v":-0.04,"t":"-0.04"}
],
"Cp": [
{"g":"Ca","x":5.5,"y":0.0064},{"g":"Ca","x":11.4,"y":0.0096},{"g":"Ca","x":17.3,"y":0.0108},{"g":"Ca","x":23.0,"y":0.0112},{"g":"Ca","x":28.9,"y":0.0123},{"g":"Ca","x":34.7,"y":0.012},{"g":"Ca","x":40.6,"y":0.0124},{"g":"Ca","x":46.4,"y":0.01225},{"g":"Ca","x":52.3,"y":0.0127},{"g":"Ca","x":58.0,"y":0.01225},{"g":"Ca","x":64.0,"y":0.0129},{"g":"Ca","x":69.7,"y":0.0122},{"g":"Ca","x":87.2,"y":0.01245},{"g":"Ca","x":116.2,"y":0.01255},
{"g":"Δ60Hs","x":0.3,"y":0.0037},{"g":"Δ60Hs","x":0.6,"y":0.0066},{"g":"Δ60Hs","x":1.4,"y":0.0057},{"g":"Δ60Hs","x":2.3,"y":0.0064},{"g":"Δ60Hs","x":6.5,"y":0.008},{"g":"Δ60Hs","x":10.7,"y":0.0086},{"g":"Δ60Hs","x":52.3,"y":0.0094},{"g":"Δ60Hs","x":93.8,"y":0.0098}
],
"Cf": [
{"g":"Ca","x":0,"y":0},{"g":"Ca","x":0.5,"y":0.00125},{"g":"Ca","x":1,"y":0.00228},{"g":"Ca","x":2,"y":0.00391},{"g":"Ca","x":3,"y":0.00513},{"g":"Ca","x":4,"y":0.00608},{"g":"Ca","x":6,"y":0.00745},{"g":"Ca","x":8,"y":0.00841},{"g":"Ca","x":10,"y":0.00911},{"g":"Ca","x":13,"y":0.00986},{"g":"Ca","x":16,"y":0.0104},{"g":"Ca","x":20,"y":0.01092},{"g":"Ca","x":25,"y":0.01137},{"g":"Ca","x":30,"y":0.0117},{"g":"Ca","x":40,"y":0.01213},{"g":"Ca","x":50,"y":0.01241},{"g":"Ca","x":60,"y":0.0126},{"g":"Ca","x":70,"y":0.01273},{"g":"Ca","x":80,"y":0.01284},{"g":"Ca","x":90,"y":0.01293},{"g":"Ca","x":100,"y":0.01299},{"g":"Ca","x":110,"y":0.01305},{"g":"Ca","x":120,"y":0.0131},
{"g":"Δ60Hs","x":0,"y":0},{"g":"Δ60Hs","x":0.2,"y":0.003},{"g":"Δ60Hs","x":0.5,"y":0.0055},{"g":"Δ60Hs","x":1,"y":0.0064},{"g":"Δ60Hs","x":2,"y":0.007},{"g":"Δ60Hs","x":4,"y":0.0076},{"g":"Δ60Hs","x":6,"y":0.008},{"g":"Δ60Hs","x":8,"y":0.0083},{"g":"Δ60Hs","x":10,"y":0.0085},{"g":"Δ60Hs","x":15,"y":0.0088},{"g":"Δ60Hs","x":20,"y":0.009},{"g":"Δ60Hs","x":30,"y":0.0092},{"g":"Δ60Hs","x":40,"y":0.0093},{"g":"Δ60Hs","x":50,"y":0.00937},{"g":"Δ60Hs","x":60,"y":0.00945},{"g":"Δ60Hs","x":80,"y":0.0096},{"g":"Δ60Hs","x":100,"y":0.0097},{"g":"Δ60Hs","x":120,"y":0.00978}
],
"Dp": [
{"g":"Ca","x":0.89,"y":0.0196},{"g":"Ca","x":1.82,"y":0.0389},{"g":"Ca","x":2.74,"y":0.0545},{"g":"Ca","x":3.68,"y":0.0653},{"g":"Ca","x":4.59,"y":0.0688},{"g":"Ca","x":5.49,"y":0.0692},{"g":"Ca","x":6.4,"y":0.0684},{"g":"Ca","x":7.31,"y":0.0683},{"g":"Ca","x":8.22,"y":0.0679},{"g":"Ca","x":9.15,"y":0.0674},
{"g":"Δ60Hs","x":0.89,"y":0.0175},{"g":"Δ60Hs","x":1.82,"y":0.0313},{"g":"Δ60Hs","x":2.74,"y":0.0445},{"g":"Δ60Hs","x":3.65,"y":0.0559},{"g":"Δ60Hs","x":4.58,"y":0.0628},{"g":"Δ60Hs","x":5.49,"y":0.0702},{"g":"Δ60Hs","x":6.4,"y":0.0749},{"g":"Δ60Hs","x":7.31,"y":0.0756},{"g":"Δ60Hs","x":8.22,"y":0.0784},{"g":"Δ60Hs","x":9.15,"y":0.0789},{"g":"Δ60Hs","x":10.08,"y":0.0797},{"g":"Δ60Hs","x":11.0,"y":0.0817},{"g":"Δ60Hs","x":11.9,"y":0.0817},{"g":"Δ60Hs","x":12.8,"y":0.0799},{"g":"Δ60Hs","x":13.75,"y":0.0817},{"g":"Δ60Hs","x":14.66,"y":0.0799}
],
"Df": [
{"g":"Ca","x":0,"y":0},{"g":"Ca","x":0.5,"y":0.0105},{"g":"Ca","x":1,"y":0.021},{"g":"Ca","x":1.5,"y":0.0314},{"g":"Ca","x":2,"y":0.0414},{"g":"Ca","x":2.5,"y":0.0506},{"g":"Ca","x":3,"y":0.0585},{"g":"Ca","x":3.5,"y":0.064},{"g":"Ca","x":4,"y":0.0668},{"g":"Ca","x":4.5,"y":0.0682},{"g":"Ca","x":5,"y":0.0689},{"g":"Ca","x":6,"y":0.0693},{"g":"Ca","x":8,"y":0.0696},{"g":"Ca","x":10,"y":0.0697},{"g":"Ca","x":15,"y":0.0698},
{"g":"Δ60Hs","x":0,"y":0},{"g":"Δ60Hs","x":0.5,"y":0.009},{"g":"Δ60Hs","x":1,"y":0.018},{"g":"Δ60Hs","x":1.5,"y":0.0268},{"g":"Δ60Hs","x":2,"y":0.0352},{"g":"Δ60Hs","x":2.5,"y":0.043},{"g":"Δ60Hs","x":3,"y":0.0497},{"g":"Δ60Hs","x":3.5,"y":0.0553},{"g":"Δ60Hs","x":4,"y":0.0598},{"g":"Δ60Hs","x":4.5,"y":0.0635},{"g":"Δ60Hs","x":5,"y":0.0665},{"g":"Δ60Hs","x":5.5,"y":0.069},{"g":"Δ60Hs","x":6,"y":0.071},{"g":"Δ60Hs","x":7,"y":0.0742},{"g":"Δ60Hs","x":8,"y":0.0764},{"g":"Δ60Hs","x":9,"y":0.078},{"g":"Δ60Hs","x":10,"y":0.0792},{"g":"Δ60Hs","x":11,"y":0.08},{"g":"Δ60Hs","x":12,"y":0.0807},{"g":"Δ60Hs","x":13,"y":0.0812},{"g":"Δ60Hs","x":14,"y":0.0816},{"g":"Δ60Hs","x":15,"y":0.0819}
]
},
"spacing": 34,
"vconcat": [
{"spacing": 54, "hconcat": [
 {"spacing": 0, "bounds": "flush", "vconcat": [
  {"width": 291, "height": 144,
   "title": {"text": "Prothioconazole", "frame": "group", "offset": 0},
   "layer": [
    {"data": {"name": "At"}, "mark": {"type": "line", "color": "#000", "strokeWidth": 0.8, "clip": true},
     "encoding": {
      "x": {"field": "w", "type": "quantitative", "scale": {"domain": [350, 490], "nice": false, "zero": false}, "axis": {"values": [360,375,390,405,420,435,450,465,480], "labels": false, "title": null}},
      "y": {"field": "a", "type": "quantitative", "scale": {"domain": [-0.007, 0.0038], "nice": false, "zero": false}, "axis": {"values": [-0.006,-0.0045,-0.003,-0.0015,0,0.0015,0.003], "title": "Absorbance", "titleY": 146, "titlePadding": 5, "labelExpr": "datum.value == 0 ? '0' : (abs(round(datum.value/0.0015)) % 2 == 1 ? '' : (datum.value < 0 ? '-' : '') + format(abs(datum.value), '.3f'))"}},
      "detail": {"field": "c", "type": "nominal"}}},
    {"data": {"values": [{"t": "A"}]}, "mark": {"type": "text", "fontSize": 28, "align": "left", "baseline": "alphabetic"},
     "encoding": {"x": {"datum": 353, "type": "quantitative"}, "y": {"datum": 0.00195, "type": "quantitative"}, "text": {"field": "t"}}},
    {"data": {"values": [{"t": "Ca"}]}, "mark": {"type": "text", "fontSize": 20, "align": "right", "baseline": "alphabetic"},
     "encoding": {"x": {"datum": 487, "type": "quantitative"}, "y": {"datum": -0.0064, "type": "quantitative"}, "text": {"field": "t"}}}
   ]},
  {"width": 291, "height": 146,
   "layer": [
    {"data": {"name": "Ab"}, "mark": {"type": "line", "color": "#000", "strokeWidth": 0.8, "clip": true},
     "encoding": {
      "x": {"field": "w", "type": "quantitative", "scale": {"domain": [350, 490], "nice": false, "zero": false}, "axis": {"values": [360,375,390,405,420,435,450,465,480], "title": "Wavelength (nm)", "labelExpr": "datum.value % 30 == 0 ? datum.value : ''"}},
      "y": {"field": "a", "type": "quantitative", "scale": {"domain": [-0.007, 0.005], "nice": false, "zero": false}, "axis": {"values": [-0.006,-0.0045,-0.003,-0.0015,0,0.0015,0.003,0.0045], "title": null, "labelExpr": "datum.value == 0 ? '0' : (abs(round(datum.value/0.0015)) % 2 == 1 ? '' : (datum.value < 0 ? '-' : '') + format(abs(datum.value), '.3f'))"}},
      "detail": {"field": "c", "type": "nominal"}}},
    {"data": {"values": [{"t": "Δ60Hs"}]}, "mark": {"type": "text", "fontSize": 20, "align": "right", "baseline": "alphabetic"},
     "encoding": {"x": {"datum": 487.4, "type": "quantitative"}, "y": {"datum": -0.00648, "type": "quantitative"}, "text": {"field": "t"}}}
   ]}
 ]},
 {"spacing": 0, "bounds": "flush", "vconcat": [
  {"width": 290, "height": 144,
   "title": {"text": "Prothioconazole-desthio", "frame": "group", "offset": 0},
   "layer": [
    {"data": {"name": "Bt"}, "mark": {"type": "line", "color": "#000", "strokeWidth": 0.8, "interpolate": "monotone", "clip": true},
     "encoding": {
      "x": {"field": "w", "type": "quantitative", "scale": {"domain": [380, 490], "nice": false, "zero": false}, "axis": {"values": [390,405,420,435,450,465,480], "labels": false, "title": null}},
      "y": {"field": "a", "type": "quantitative", "scale": {"domain": [-0.045, 0.035], "nice": false, "zero": false}, "axis": {"values": [-0.04,-0.03,-0.02,-0.01,0,0.01,0.02,0.03], "title": "Absorbance", "titleY": 146, "titlePadding": 5, "labelExpr": "datum.value == 0 ? '0' : (abs(round(datum.value*100)) % 2 == 1 ? '' : (datum.value < 0 ? '-' : '') + format(abs(datum.value), '.2f'))"}},
      "detail": {"field": "c", "type": "nominal"}}},
    {"data": {"values": [{"t": "B"}]}, "mark": {"type": "text", "fontSize": 28, "align": "left", "baseline": "alphabetic"},
     "encoding": {"x": {"datum": 382, "type": "quantitative"}, "y": {"datum": 0.0213, "type": "quantitative"}, "text": {"field": "t"}}},
    {"data": {"values": [{"t": "Ca"}]}, "mark": {"type": "text", "fontSize": 20, "align": "right", "baseline": "alphabetic"},
     "encoding": {"x": {"datum": 487.6, "type": "quantitative"}, "y": {"datum": -0.0407, "type": "quantitative"}, "text": {"field": "t"}}}
   ]},
  {"width": 290, "height": 146,
   "layer": [
    {"data": {"name": "Bb"}, "mark": {"type": "line", "color": "#000", "strokeWidth": 0.8, "interpolate": "monotone", "clip": true},
     "encoding": {
      "x": {"field": "w", "type": "quantitative", "scale": {"domain": [380, 490], "nice": false, "zero": false}, "axis": {"values": [390,405,420,435,450,465,480], "title": "Wavelength (nm)", "labelExpr": "datum.value % 30 == 0 ? datum.value : ''"}},
      "y": {"field": "a", "type": "quantitative", "scale": {"domain": [-0.054, 0.045], "nice": false, "zero": false}, "axis": {"values": [-0.04,-0.03,-0.02,-0.01,0,0.01,0.02,0.03,0.04], "labels": false, "title": null}},
      "detail": {"field": "c", "type": "nominal"}}},
    {"data": {"name": "BbTicks"}, "mark": {"type": "text", "fontSize": 20, "align": "right", "baseline": "middle", "dx": -4},
     "encoding": {"x": {"datum": 380, "type": "quantitative"}, "y": {"field": "v", "type": "quantitative"}, "text": {"field": "t"}}},
    {"data": {"values": [{"t": "Δ60Hs"}]}, "mark": {"type": "text", "fontSize": 20, "align": "right", "baseline": "alphabetic"},
     "encoding": {"x": {"datum": 488, "type": "quantitative"}, "y": {"datum": -0.0497, "type": "quantitative"}, "text": {"field": "t"}}}
   ]}
 ]}
]},
{"spacing": 126, "bounds": "flush", "hconcat": [
 {"width": 291, "height": 292,
  "layer": [
   {"data": {"name": "Cf"}, "mark": {"type": "line", "color": "#333", "strokeWidth": 1, "interpolate": "monotone", "clip": true},
    "encoding": {
     "x": {"field": "x", "type": "quantitative", "scale": {"domain": [0, 120], "nice": false}, "axis": {"values": [0,10,20,30,40,50,60,70,80,90,100,110,120], "title": "[Prothioconazole] (μM)", "labelExpr": "datum.value % 20 == 0 ? datum.value : ''"}},
     "y": {"field": "y", "type": "quantitative", "scale": {"domain": [0, 0.015], "nice": false}, "axis": {"values": [0,0.0015,0.003,0.0045,0.006,0.0075,0.009,0.0105,0.012,0.0135,0.015], "title": "ΔA", "labelExpr": "datum.value == 0 ? '0' : (round(datum.value/0.0015) % 2 == 1 ? '' : format(datum.value, '.3f'))"}},
     "detail": {"field": "g", "type": "nominal"}}},
   {"data": {"name": "Cp"}, "mark": {"type": "point", "shape": "circle", "size": 80, "filled": true, "stroke": "#000", "strokeWidth": 1, "opacity": 1},
    "encoding": {"x": {"field": "x", "type": "quantitative"}, "y": {"field": "y", "type": "quantitative"},
     "fill": {"field": "g", "type": "nominal", "scale": {"domain": ["Ca", "Δ60Hs"], "range": ["#000", "transparent"]}, "legend": null}}},
   {"data": {"values": [{"t": "C"}]}, "mark": {"type": "text", "fontSize": 28, "align": "left", "baseline": "alphabetic"},
    "encoding": {"x": {"datum": 2.06, "type": "quantitative"}, "y": {"datum": 0.0136, "type": "quantitative"}, "text": {"field": "t"}}}
  ]},
 {"width": 290, "height": 292,
  "layer": [
   {"data": {"name": "Df"}, "mark": {"type": "line", "color": "#333", "strokeWidth": 1, "interpolate": "monotone", "clip": true},
    "encoding": {
     "x": {"field": "x", "type": "quantitative", "scale": {"domain": [0, 15], "nice": false}, "axis": {"values": [0,1.5,3,4.5,6,7.5,9,10.5,12,13.5,15], "title": "[Prothioconazole-desthio] (μM)", "labelExpr": "round(datum.value/1.5) % 2 == 1 ? '' : datum.value"}},
     "y": {"field": "y", "type": "quantitative", "scale": {"domain": [0, 0.09], "nice": false}, "axis": {"values": [0,0.01,0.02,0.03,0.04,0.05,0.06,0.07,0.08], "title": "ΔA", "labelExpr": "datum.value == 0 ? '0' : (round(datum.value/0.01) % 2 == 1 ? '' : format(datum.value, '.2f'))"}},
     "detail": {"field": "g", "type": "nominal"}}},
   {"data": {"name": "Dp"}, "mark": {"type": "point", "shape": "circle", "size": 80, "filled": true, "stroke": "#000", "strokeWidth": 1, "opacity": 1},
    "encoding": {"x": {"field": "x", "type": "quantitative"}, "y": {"field": "y", "type": "quantitative"},
     "fill": {"field": "g", "type": "nominal", "scale": {"domain": ["Ca", "Δ60Hs"], "range": ["#000", "transparent"]}, "legend": null}}},
   {"data": {"values": [{"t": "D"}]}, "mark": {"type": "text", "fontSize": 28, "align": "left", "baseline": "alphabetic"},
    "encoding": {"x": {"datum": 0.27, "type": "quantitative"}, "y": {"datum": 0.0817, "type": "quantitative"}, "text": {"field": "t"}}}
  ]}
]}
]
}
